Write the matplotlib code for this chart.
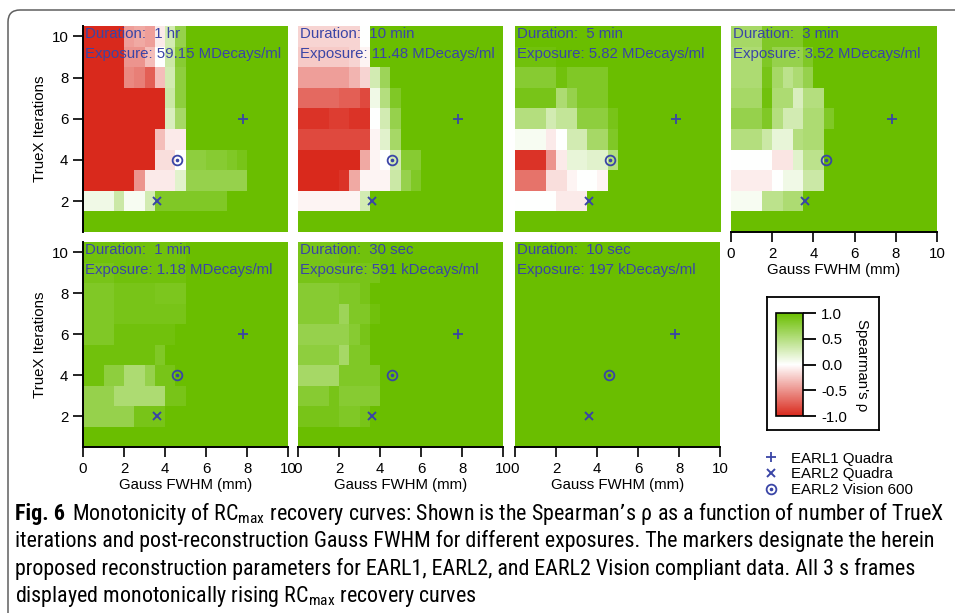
import numpy as np
import matplotlib
matplotlib.use("Agg")
import matplotlib.pyplot as plt
from matplotlib.colors import LinearSegmentedColormap, Normalize
from matplotlib.cm import ScalarMappable
from matplotlib.patches import FancyBboxPatch
from matplotlib.transforms import IdentityTransform
from matplotlib import font_manager

plt.rcParams['font.family'] = ['Liberation Sans', 'DejaVu Sans']
plt.rcParams['axes.unicode_minus'] = False

# grid: FWHM 0..10 mm in 0.5 mm bins, TrueX iterations 1..10
fwhm_edges = np.arange(0, 10.5, 0.5)
iter_edges = np.arange(0.5, 11.0, 1.0)

durations = ["1 hr", "10 min", "5 min", "3 min", "1 min", "30 sec", "10 sec"]
exposures = ["59.15 MDecays/ml", "11.48 MDecays/ml", "5.82 MDecays/ml", "3.52 MDecays/ml",
             "1.18 MDecays/ml", "591 kDecays/ml", "197 kDecays/ml"]

# Spearman's rho, rows listed from 10 iterations (top) down to 1 iteration
rho_1hr = [
    [-1, -1, -1, -1, -0.45, -0.4, -0.45, -0.1, 0.3, 0.7, 1, 1, 1, 1, 1, 1, 1, 1, 1, 1],
    [-1, -1, -1, -1, -0.5, -0.5, -0.3, 0.0, 0.35, 0.8, 1, 1, 1, 1, 1, 1, 1, 1, 1, 1],
    [-1, -1, -1, -1, -0.55, -0.6, -0.75, -0.3, 0.3, 0.75, 1, 1, 1, 1, 1, 1, 1, 1, 1, 1],
    [-1, -1, -1, -1, -1, -1, -1, -1, 0.35, 0.75, 1, 1, 1, 1, 1, 1, 1, 1, 1, 1],
    [-1, -1, -1, -1, -1, -1, -1, -1, 0.25, 0.6, 1, 1, 1, 1, 1, 1, 1, 1, 1, 1],
    [-1, -1, -1, -1, -1, -1, -1, -0.3, -0.1, -0.1, 1, 1, 1, 1, 1, 1, 1, 1, 1, 1],
    [-1, -1, -1, -1, -1, -1, -1, -0.15, -0.15, 0.0, 0.75, 0.75, 0.8, 0.8, 0.85, 0.9, 1, 1, 1, 1],
    [-1, -1, -1, -1, -1, -0.5, -0.1, -0.1, -0.1, 0.2, 0.7, 0.7, 0.7, 0.7, 0.7, 0.7, 1, 1, 1, 1],
    [0.1, 0.1, 0.1, 0.35, 0.05, 0.05, 0.3, 0.85, 0.85, 0.85, 0.85, 0.85, 0.85, 0.85, 1, 1, 1, 1, 1, 1],
    [1, 1, 1, 1, 1, 1, 1, 1, 1, 1, 1, 1, 1, 1, 1, 1, 1, 1, 1, 1],
]
rho_10min = [
    [-0.2, -0.2, -0.2, -0.2, -0.2, -0.2, 0.0, 1, 1, 1, 1, 1, 1, 1, 1, 1, 1, 1, 1, 1],
    [-0.25, -0.25, -0.25, -0.25, -0.25, -0.2, -0.05, 1, 1, 1, 1, 1, 1, 1, 1, 1, 1, 1, 1, 1],
    [-0.45, -0.45, -0.45, -0.45, -0.45, -0.35, -0.2, 0.3, 0.65, 1, 1, 1, 1, 1, 1, 1, 1, 1, 1, 1],
    [-0.7, -0.7, -0.7, -0.7, -0.75, -0.75, -0.85, 0.1, 0.5, 0.85, 1, 1, 1, 1, 1, 1, 1, 1, 1, 1],
    [-0.95, -0.95, -0.95, -0.9, -0.9, -0.95, -0.95, 0.0, 0.3, 0.7, 1, 1, 1, 1, 1, 1, 1, 1, 1, 1],
    [-0.85, -0.85, -0.85, -0.85, -0.85, -0.85, -0.85, -0.05, 0.2, 0.6, 1, 1, 1, 1, 1, 1, 1, 1, 1, 1],
    [-1, -1, -1, -1, -1, -1, -0.4, -0.05, 0.0, 0.3, 0.8, 0.8, 1, 1, 1, 1, 1, 1, 1, 1],
    [-1, -1, -1, -1, -0.95, -0.4, -0.05, -0.05, -0.05, 0.35, 0.7, 0.85, 1, 1, 1, 1, 1, 1, 1, 1],
    [-0.05, -0.05, -0.05, -0.05, -0.05, -0.05, 0.3, 1, 1, 1, 1, 1, 1, 1, 1, 1, 1, 1, 1, 1],
    [1, 1, 1, 1, 1, 1, 1, 1, 1, 1, 1, 1, 1, 1, 1, 1, 1, 1, 1, 1],
]
rho_5min = [
    [1, 1, 1, 1, 1, 1, 1, 1, 1, 1, 1, 1, 1, 1, 1, 1, 1, 1, 1, 1],
    [0.95, 0.95, 0.95, 0.95, 1, 1, 1, 1, 1, 1, 1, 1, 1, 1, 1, 1, 1, 1, 1, 1],
    [0.8, 0.8, 0.8, 0.8, 0.95, 0.85, 0.85, 0.85, 0.85, 1, 1, 1, 1, 1, 1, 1, 1, 1, 1, 1],
    [0.9, 0.9, 0.9, 0.9, 0.55, 0.7, 0.85, 0.85, 0.85, 1, 1, 1, 1, 1, 1, 1, 1, 1, 1, 1],
    [0.5, 0.5, 0.5, 0.3, 0.4, 0.4, 0.75, 0.75, 0.75, 0.9, 1, 1, 1, 1, 1, 1, 1, 1, 1, 1],
    [0.05, 0.05, 0.05, -0.1, 0.0, 0.3, 0.3, 0.6, 0.6, 0.85, 1, 1, 1, 1, 1, 1, 1, 1, 1, 1],
    [-0.95, -0.95, -0.95, -0.5, -0.1, 0.15, 0.15, 0.2, 0.2, 0.5, 1, 1, 1, 1, 1, 1, 1, 1, 1, 1],
    [-0.65, -0.65, -0.65, -0.15, -0.15, -0.05, 0.0, 0.0, -0.05, 1, 1, 1, 1, 1, 1, 1, 1, 1, 1, 1],
    [0.0, 0.0, 0.0, 0.0, -0.1, -0.1, -0.1, 1, 1, 1, 1, 1, 1, 1, 1, 1, 1, 1, 1, 1],
    [1, 1, 1, 1, 1, 1, 1, 1, 1, 1, 1, 1, 1, 1, 1, 1, 1, 1, 1, 1],
]
rho_3min = [
    [0.6, 0.6, 0.6, 0.85, 0.85, 0.85, 0.85, 1, 1, 1, 1, 1, 1, 1, 1, 1, 1, 1, 1, 1],
    [0.55, 0.55, 0.55, 0.85, 0.7, 0.7, 0.7, 0.85, 1, 1, 1, 1, 1, 1, 1, 1, 1, 1, 1, 1],
    [0.55, 0.55, 0.55, 0.9, 0.6, 0.45, 0.55, 0.7, 1, 1, 1, 1, 1, 1, 1, 1, 1, 1, 1, 1],
    [0.6, 0.6, 0.6, 0.95, 0.55, 0.55, 0.25, 0.5, 0.5, 1, 1, 1, 1, 1, 1, 1, 1, 1, 1, 1],
    [0.7, 0.7, 0.7, 0.85, 0.5, 0.3, 0.3, 0.55, 0.55, 0.85, 1, 1, 1, 1, 1, 1, 1, 1, 1, 1],
    [0.5, 0.5, 0.5, 0.35, 0.15, 0.15, 0.5, 0.55, 0.55, 1, 1, 1, 1, 1, 1, 1, 1, 1, 1, 1],
    [0.0, 0.0, 0.0, 0.0, -0.12, -0.12, 0.2, 0.45, 0.45, 1, 1, 1, 1, 1, 1, 1, 1, 1, 1, 1],
    [-0.08, -0.08, -0.08, -0.08, 0.0, 0.1, 0.1, 0.35, 0.35, 1, 1, 1, 1, 1, 1, 1, 1, 1, 1, 1],
    [0.05, 0.05, 0.05, 0.45, 0.45, 0.55, 0.55, 1, 1, 1, 1, 1, 1, 1, 1, 1, 1, 1, 1, 1],
    [1, 1, 1, 1, 1, 1, 1, 1, 1, 1, 1, 1, 1, 1, 1, 1, 1, 1, 1, 1],
]
rho_1min = [
    [0.95, 0.95, 0.95, 0.95, 0.95, 0.95, 0.95, 0.95, 0.95, 0.95, 1, 1, 1, 1, 1, 1, 1, 1, 1, 1],
    [0.9, 0.9, 0.9, 0.95, 0.95, 0.95, 0.95, 0.95, 0.95, 0.95, 1, 1, 1, 1, 1, 1, 1, 1, 1, 1],
    [0.85, 0.85, 0.85, 0.9, 0.9, 0.9, 0.9, 0.88, 0.88, 0.88, 1, 1, 1, 1, 1, 1, 1, 1, 1, 1],
    [0.85, 0.85, 0.85, 0.9, 0.9, 0.9, 0.9, 0.9, 0.9, 0.9, 1, 1, 1, 1, 1, 1, 1, 1, 1, 1],
    [0.85, 0.85, 0.85, 0.95, 0.95, 0.95, 0.95, 0.95, 0.95, 1, 1, 1, 1, 1, 1, 1, 1, 1, 1, 1],
    [0.95, 0.95, 0.95, 0.95, 0.95, 0.95, 0.95, 0.85, 1, 1, 1, 1, 1, 1, 1, 1, 1, 1, 1, 1],
    [0.95, 0.95, 0.75, 0.75, 0.55, 0.55, 0.7, 0.9, 0.9, 1, 1, 1, 1, 1, 1, 1, 1, 1, 1, 1],
    [0.7, 0.7, 0.7, 0.55, 0.55, 0.55, 0.55, 0.55, 0.9, 0.9, 1, 1, 1, 1, 1, 1, 1, 1, 1, 1],
    [0.7, 0.7, 0.7, 0.7, 0.7, 0.9, 0.9, 0.9, 1, 1, 1, 1, 1, 1, 1, 1, 1, 1, 1, 1],
    [1, 1, 1, 1, 1, 1, 1, 1, 1, 1, 1, 1, 1, 1, 1, 1, 1, 1, 1, 1],
]
rho_30sec = [
    [0.9, 0.9, 0.9, 0.9, 0.95, 0.95, 0.95, 0.95, 1, 1, 1, 1, 1, 1, 1, 1, 1, 1, 1, 1],
    [0.9, 0.9, 0.9, 0.9, 0.9, 0.9, 0.9, 0.9, 1, 1, 1, 1, 1, 1, 1, 1, 1, 1, 1, 1],
    [0.8, 0.8, 0.8, 0.8, 0.85, 0.85, 0.9, 1, 1, 1, 1, 1, 1, 1, 1, 1, 1, 1, 1, 1],
    [0.8, 0.8, 0.8, 0.8, 0.65, 0.85, 0.85, 0.95, 1, 1, 1, 1, 1, 1, 1, 1, 1, 1, 1, 1],
    [0.7, 0.7, 0.7, 0.7, 0.7, 0.8, 0.9, 1, 1, 1, 1, 1, 1, 1, 1, 1, 1, 1, 1, 1],
    [0.75, 0.75, 0.75, 0.75, 0.6, 0.85, 0.85, 1, 1, 1, 1, 1, 1, 1, 1, 1, 1, 1, 1, 1],
    [0.6, 0.6, 0.6, 0.6, 0.85, 0.85, 0.85, 0.85, 1, 1, 1, 1, 1, 1, 1, 1, 1, 1, 1, 1],
    [0.8, 0.8, 0.8, 0.9, 0.8, 0.8, 0.8, 0.8, 1, 1, 1, 1, 1, 1, 1, 1, 1, 1, 1, 1],
    [0.9, 0.9, 0.9, 0.9, 0.85, 0.85, 0.9, 1, 1, 1, 1, 1, 1, 1, 1, 1, 1, 1, 1, 1],
    [1, 1, 1, 1, 1, 1, 1, 1, 1, 1, 1, 1, 1, 1, 1, 1, 1, 1, 1, 1],
]
rho_10sec = [
    [1, 1, 1, 1, 1, 1, 1, 1, 1, 1, 1, 1, 1, 1, 1, 1, 1, 1, 1, 1],
    [1, 1, 1, 1, 1, 1, 1, 1, 1, 1, 1, 1, 1, 1, 1, 1, 1, 1, 1, 1],
    [1, 1, 1, 1, 1, 1, 1, 1, 1, 1, 1, 1, 1, 1, 1, 1, 1, 1, 1, 1],
    [1, 1, 1, 1, 1, 1, 1, 1, 1, 1, 1, 1, 1, 1, 1, 1, 1, 1, 1, 1],
    [1, 1, 1, 1, 1, 1, 1, 1, 1, 1, 1, 1, 1, 1, 1, 1, 1, 1, 1, 1],
    [1, 1, 1, 1, 1, 1, 1, 1, 1, 1, 1, 1, 1, 1, 1, 1, 1, 1, 1, 1],
    [1, 1, 1, 1, 1, 1, 1, 1, 1, 1, 1, 1, 1, 1, 1, 1, 1, 1, 1, 1],
    [1, 1, 1, 1, 1, 1, 1, 1, 1, 1, 1, 1, 1, 1, 1, 1, 1, 1, 1, 1],
    [1, 1, 1, 1, 1, 1, 1, 1, 1, 1, 1, 1, 1, 1, 1, 1, 1, 1, 1, 1],
    [1, 1, 1, 1, 1, 1, 1, 1, 1, 1, 1, 1, 1, 1, 1, 1, 1, 1, 1, 1],
]
panels = [rho_1hr, rho_10min, rho_5min, rho_3min, rho_1min, rho_30sec, rho_10sec]

# proposed reconstruction parameters (FWHM in mm, iterations)
earl1_quadra = (7.8, 6)
earl2_quadra = (3.6, 2)
earl2_vision = (4.6, 4)

W, H = 955, 613
fig = plt.figure(figsize=(W / 100, H / 100), dpi=100)

def add_px_axes(x0, y0, x1, y1):
    return fig.add_axes([x0 / W, 1 - y1 / H, (x1 - x0) / W, (y1 - y0) / H])

cmap = LinearSegmentedColormap.from_list("rho", ["#d9291c", "#ffffff", "#6abe00"])
norm = Normalize(-1, 1)
mcol = "#3a45a6"
fs = 10.8

boxes = [(83, 26, 288, 232), (298, 26, 503, 232), (515, 26, 721, 232), (731, 26, 937, 232),
         (83, 242, 288, 447), (298, 242, 503, 447), (515, 242, 720, 447)]
left_col = [0, 4]
with_xaxis = [3, 4, 5, 6]

handles = None
for i, (box, rho) in enumerate(zip(boxes, panels)):
    ax = add_px_axes(*box)
    ax.pcolormesh(fwhm_edges, iter_edges, np.array(rho)[::-1], cmap=cmap, norm=norm, shading="flat")
    ax.set_xlim(0, 10)
    ax.set_ylim(0.5, 10.5)
    for s in ax.spines.values():
        s.set_visible(False)
    ax.tick_params(direction="out", length=7.5, width=1.2, labelsize=fs, pad=3, colors="black")
    if i in left_col:
        ax.spines["left"].set_visible(True)
        ax.spines["left"].set_linewidth(1.4)
        ax.set_yticks([2, 4, 6, 8, 10])
        ax.set_ylabel("TrueX Iterations", fontsize=fs, labelpad=3)
    else:
        ax.set_yticks([])
    if i in with_xaxis:
        ax.spines["bottom"].set_visible(True)
        ax.spines["bottom"].set_linewidth(1.4)
        ax.set_xticks([0, 2, 4, 6, 8, 10])
        ax.set_xlabel("Gauss FWHM (mm)", fontsize=fs, labelpad=2)
    else:
        ax.set_xticks([])

    h1, = ax.plot(*earl1_quadra, "+", color=mcol, ms=7, mew=1.3)
    h2, = ax.plot(*earl2_quadra, "x", color=mcol, ms=6, mew=1.4)
    h3, = ax.plot(*earl2_vision, "o", color=mcol, mfc="none", ms=7, mew=1.3)
    h4, = ax.plot(*earl2_vision, "o", color=mcol, ms=1.6)
    handles = [h1, h2, (h3, h4)]

    ax.text(0.01, 0.942, "Duration:  " + durations[i], transform=ax.transAxes,
            color=mcol, fontsize=fs, va="baseline")
    ax.text(0.01, 0.845, "Exposure: " + exposures[i], transform=ax.transAxes,
            color=mcol, fontsize=fs, va="baseline")

# colour scale in its own framed box
frame = add_px_axes(767, 297, 879, 430)
frame.set_xticks([])
frame.set_yticks([])
for s in frame.spines.values():
    s.set_linewidth(1.3)
cax = add_px_axes(776, 313, 803, 416)
cb = fig.colorbar(ScalarMappable(norm=norm, cmap=cmap), cax=cax, ticks=[-1, -0.5, 0, 0.5, 1])
cb.ax.set_yticklabels(["-1.0", "-0.5", "0.0", "0.5", "1.0"])
cb.ax.tick_params(length=9, width=1.3, labelsize=fs, pad=4)
cb.outline.set_linewidth(1.2)
fig.text(862 / W, 1 - 365 / H, "Spearman's ρ", rotation=270, fontsize=fs, ha="center", va="center")

fig.legend(handles, ["EARL1 Quadra", "EARL2 Quadra", "EARL2 Vision 600"],
           loc="upper left", bbox_to_anchor=(756 / W, 1 - 444 / H), frameon=False,
           fontsize=fs, handlelength=1.0, handletextpad=0.8, labelspacing=0.12, borderpad=0)

# rounded page frame
frame_patch = FancyBboxPatch((8, -60), 1100, H - 10 + 60, boxstyle="round,pad=0,rounding_size=12",
                             transform=IdentityTransform(), fill=False, edgecolor="#5f5f5f", lw=1.1)
fig.patches.append(frame_patch)

# caption
def pick_font(names):
    for n in names:
        try:
            font_manager.findfont(font_manager.FontProperties(family=n), fallback_to_default=False)
            return n
        except ValueError:
            continue
    return "DejaVu Sans"

cap_font = pick_font(["Liberation Sans Narrow", "Roboto Condensed", "Open Sans Condensed", "Liberation Sans"])
cap_lines = [
    r"Monotonicity of $\mathregular{RC_{max}}$ recovery curves: Shown is the Spearman’s ρ as a function of number of TrueX",
    "iterations and post-reconstruction Gauss FWHM for different exposures. The markers designate the herein",
    "proposed reconstruction parameters for EARL1, EARL2, and EARL2 Vision compliant data. All 3 s frames",
    r"displayed monotonically rising $\mathregular{RC_{max}}$ recovery curves",
]
cap_base = [520, 547, 575, 602]
cap_x0, cap_x1 = 15, 944

renderer = fig.canvas.get_renderer()
size = 15
bold = fig.text(cap_x0 / W, 1 - cap_base[0] / H, "Fig. 6", fontsize=size, fontweight="bold",
                family=cap_font, va="baseline")
texts = [fig.text(cap_x0 / W, 1 - y / H, s, fontsize=size, family=cap_font, va="baseline")
         for s, y in zip(cap_lines, cap_base)]
# scale the caption so that the first line spans the text column
gap = 0.45
w1 = bold.get_window_extent(renderer).width + gap * size + texts[0].get_window_extent(renderer).width
size = size * (cap_x1 - cap_x0) / w1
bold.set_fontsize(size)
for t in texts:
    t.set_fontsize(size)
bw = bold.get_window_extent(renderer).width
texts[0].set_x((cap_x0 + bw + gap * size) / W)

fig.savefig("out.png", dpi=100)
